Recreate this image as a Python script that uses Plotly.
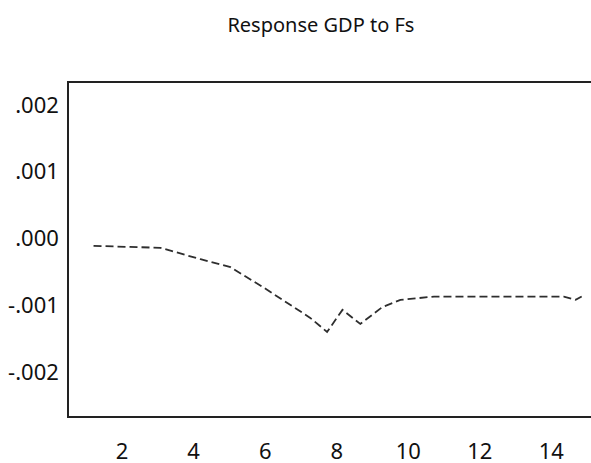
import plotly.graph_objects as go

title_text = "Response GDP to Fs"
period = [1.2, 2.0, 3.07, 4.19, 5.03, 6.0, 7.26, 7.73, 8.16, 8.66, 9.27, 9.78, 10.72, 12.0, 13.0, 14.35, 14.68, 14.85]
response = [-0.00011, -0.00012, -0.00014, -0.00031, -0.00043, -0.00075, -0.00119, -0.00140,
            -0.00107, -0.00128, -0.00103, -0.00092, -0.00087, -0.00087, -0.00087, -0.00087,
            -0.00092, -0.00087]
x_ticks = [2, 4, 6, 8, 10, 12, 14]
y_ticks = [0.002, 0.001, 0.0, -0.001, -0.002]
y_tick_labels = [".002", ".001", ".000", "-.001", "-.002"]

fig = go.Figure()
fig.add_trace(go.Scatter(
    x=period, y=response, mode="lines",
    line=dict(color="#2e2e2e", width=1.8, dash="8px,4px"),
    showlegend=False, hoverinfo="skip",
))

font_family = "Noto Sans"
fig.update_layout(
    width=591, height=463,
    margin=dict(l=69, r=0, t=83, b=47, autoexpand=False),
    paper_bgcolor="white", plot_bgcolor="white",
    title=dict(text=title_text, xref="container", x=0.543, xanchor="center",
               yref="container", y=0.946, yanchor="middle",
               font=dict(family=font_family, size=20, color="#111111")),
    font=dict(family=font_family, color="#111111"),
)
fig.update_xaxes(
    range=[0.514, 15.11], tickvals=x_ticks, ticktext=[str(v) for v in x_ticks],
    showgrid=False, zeroline=False, showline=True, linecolor="#222222", linewidth=1.5,
    mirror=True, ticks="outside", ticklen=15, tickcolor="rgba(0,0,0,0)", automargin=False,
    tickfont=dict(family=font_family, size=22, color="#111111"),
)
fig.update_yaxes(
    range=[-0.00266, 0.00233], tickvals=y_ticks, ticktext=y_tick_labels,
    showgrid=False, zeroline=False, showline=True, linecolor="#222222", linewidth=1.5,
    mirror=False, ticks="outside", ticklen=4, tickcolor="rgba(0,0,0,0)", automargin=False,
    tickfont=dict(family=font_family, size=22, color="#111111"),
)
fig.write_html(
    "out.html",
    config={"displayModeBar": False},
    post_script="document.body.style.margin='0';document.body.style.overflow='hidden';",
)
